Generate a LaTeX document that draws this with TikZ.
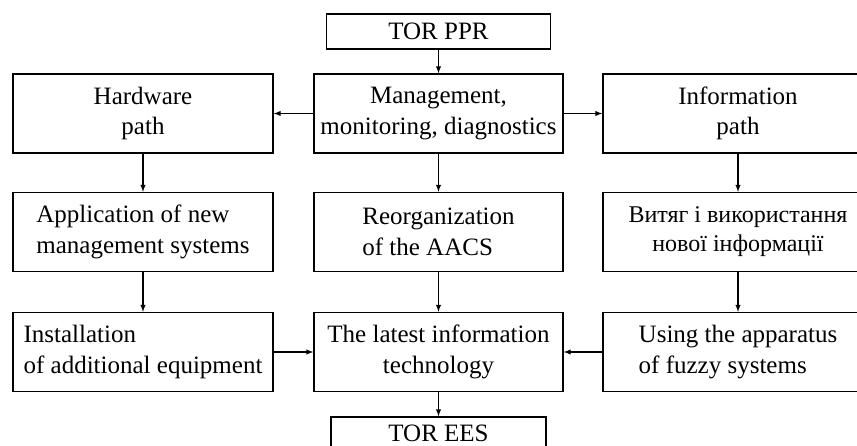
\documentclass[tikz,border=0pt]{standalone}
\usepackage{fontspec}
\setmainfont{Liberation Serif}
\usepackage{tikz}
\usetikzlibrary{arrows}
\usetikzlibrary{positioning}

\begin{document}
\begin{tikzpicture}
	[x=1pt,y=-1pt,line width=1.4pt,
	every node/.style={font=\fontsize{25}{30.5}\selectfont},
	blk/.style={draw,rectangle,inner sep=0pt,minimum height=79pt},
	side/.style={blk,minimum width=260pt},
	mid/.style={blk,minimum width=249pt},
	far/.style={blk,minimum width=270pt},
	term/.style={draw,rectangle,inner sep=0pt,minimum width=224pt,minimum height=35pt}]
	\clip (0,0) rectangle (857,446);
	\node[term] (ppr) at (438.5,31.5) {TOR PPR};
	\node[side,align=center] (hw) at (143,113.5) {Hardware\\path};
	\node[mid,align=center] (mgmt) at (438.5,113.5) {Management,\\monitoring, diagnostics};
	\node[far,align=center] (info) at (738,113.5) {Information\\path};
	\node[side,align=left] (app) at (143,232) {Application of new\\management systems};
	\node[mid,align=left] (reorg) at (438.5,232) {Reorganization\\of the AACS};
	\node[far,align=center,font=\fontsize{24}{29}\selectfont] (vyt) at (738,232) {Витяг і використання\\нової інформації};
	\node[side,align=left] (inst) at (143,352) {Installation\\of additional equipment};
	\node[mid,align=center] (last) at (438.5,352) {The latest information\\technology};
	\node[far,align=left] (fuzzy) at (738,352) {Using the apparatus\\of fuzzy systems};
	\node[term,minimum width=215pt,minimum height=32pt] (ees) at (438.5,433) {TOR EES};

	\foreach \from/\to in
	{ppr/mgmt, mgmt/hw, mgmt/info, hw/app, mgmt/reorg, info/vyt,
	app/inst, reorg/last, vyt/fuzzy, inst/last, fuzzy/last, last/ees}
	\draw[-latex] (\from) -- (\to);
\end{tikzpicture}
\end{document}
